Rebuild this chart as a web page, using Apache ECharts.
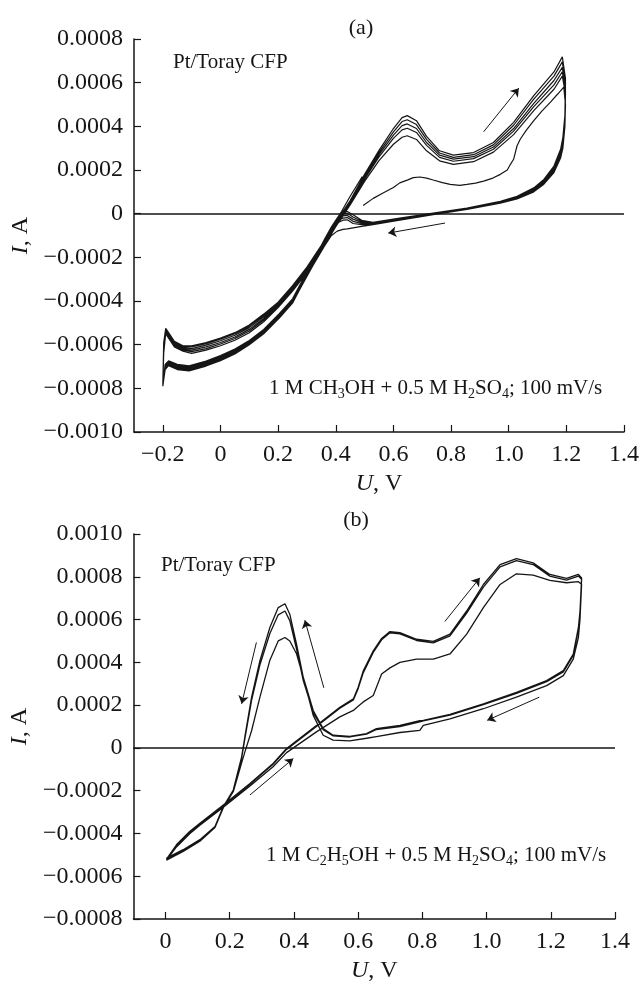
<!DOCTYPE html>
<html>
<head>
<meta charset="utf-8">
<script src="https://cdn.jsdelivr.net/npm/echarts@6/dist/echarts.min.js"></script>
<style>
  html, body { margin: 0; padding: 0; background: #fff; }
  #chart { width: 643px; height: 984px; }
</style>
</head>
<body>
<div id="chart"></div>
<script>
// ---- panel (a): methanol, U in V, I in A ----
// very first scan starts at 0.5 V
const aFirstU = [0.495, 0.53, 0.564, 0.6, 0.622, 0.65, 0.669, 0.692, 0.715, 0.738, 0.77, 0.797, 0.83, 0.855, 0.885, 0.913, 0.945, 0.971, 0.995, 1.006, 1.017, 1.029, 1.04, 1.06, 1.087, 1.115, 1.145, 1.17, 1.191];
const aFirstI = [0.000037, 0.00007, 0.000095, 0.00012, 0.000141, 0.000155, 0.000165, 0.000168, 0.000163, 0.000154, 0.000142, 0.000134, 0.00013, 0.000134, 0.00014, 0.000149, 0.000163, 0.00018, 0.0002, 0.000226, 0.000249, 0.000311, 0.000341, 0.00038, 0.000426, 0.00047, 0.000511, 0.000548, 0.00058];

// anodic (forward) sweeps, cycles 1..5
const aFwdU = [-0.2, -0.197, -0.19, -0.18, -0.16, -0.13, -0.1, -0.05, 0, 0.05, 0.1, 0.15, 0.2, 0.25, 0.3, 0.35, 0.4, 0.42, 0.45, 0.5, 0.55, 0.6, 0.63, 0.648, 0.68, 0.715, 0.76, 0.808, 0.878, 0.947, 1.017, 1.087, 1.157, 1.186];
const aFwdI1 = [-0.00079, -0.00064, -0.00055, -0.00057, -0.00061, -0.00063, -0.00064, -0.000625, -0.000605, -0.00058, -0.000545, -0.000495, -0.00043, -0.000355, -0.00027, -0.00017, -0.00006, -0.00002, 0.00004, 0.000148, 0.000243, 0.000318, 0.00035, 0.000357, 0.00034, 0.000288, 0.000242, 0.000226, 0.000238, 0.000282, 0.000362, 0.000472, 0.00057, 0.00063];
const aFwdI2 = [-0.00078, -0.00063, -0.000545, -0.000565, -0.000605, -0.000625, -0.000632, -0.000618, -0.000597, -0.000572, -0.000537, -0.000487, -0.000425, -0.00035, -0.000265, -0.000165, -0.000055, -0.000015, 0.000045, 0.000158, 0.00026, 0.000345, 0.000384, 0.000391, 0.000372, 0.000313, 0.000258, 0.00024, 0.000252, 0.000295, 0.000378, 0.00049, 0.00059, 0.00065];
const aFwdI3 = [-0.00078, -0.00062, -0.00054, -0.00056, -0.0006, -0.00062, -0.000625, -0.00061, -0.00059, -0.000565, -0.00053, -0.00048, -0.00042, -0.000345, -0.00026, -0.00016, -0.00005, -0.00001, 0.00005, 0.000165, 0.00027, 0.00036, 0.000403, 0.000411, 0.00039, 0.000326, 0.000268, 0.00025, 0.000261, 0.000305, 0.00039, 0.000505, 0.00061, 0.00067];
const aFwdI4 = [-0.00078, -0.00061, -0.000535, -0.000555, -0.000595, -0.000615, -0.000618, -0.000602, -0.000582, -0.000557, -0.000522, -0.000472, -0.000415, -0.00034, -0.000255, -0.000155, -0.000045, -0.000005, 0.000055, 0.000172, 0.00028, 0.000375, 0.000422, 0.00043, 0.000408, 0.00034, 0.000278, 0.000258, 0.00027, 0.000315, 0.000405, 0.000525, 0.00063, 0.000695];
const aFwdI5 = [-0.00078, -0.0006, -0.00053, -0.00055, -0.00059, -0.00061, -0.00061, -0.000595, -0.000575, -0.00055, -0.000515, -0.000465, -0.00041, -0.000335, -0.00025, -0.00015, -0.00004, 0, 0.00006, 0.00018, 0.00029, 0.00039, 0.00044, 0.000449, 0.000426, 0.000354, 0.000288, 0.000268, 0.00028, 0.000326, 0.000418, 0.000541, 0.000649, 0.000718];

// cathodic (reverse) sweeps, after first scan (0) and cycles 1..5
const aRevU = [1.192, 1.197, 1.195, 1.188, 1.18, 1.157, 1.122, 1.087, 1.029, 0.971, 0.855, 0.738, 0.622, 0.529, 0.49, 0.46, 0.44, 0.425, 0.405, 0.385, 0.36, 0.32, 0.274, 0.25, 0.204, 0.15, 0.1, 0.05, 0, -0.05, -0.109, -0.15, -0.18, -0.192, -0.2];
const aRevI0 = [0.00058, 0.0005, 0.0004, 0.0003, 0.000255, 0.000188, 0.000135, 0.0001, 0.000067, 0.000048, 0.00002, -0.000004, -0.00003, -0.00005, -0.000058, -0.000065, -0.00007, -0.000072, -0.00008, -0.0001, -0.00015, -0.00024, -0.00035, -0.00041, -0.000478, -0.00055, -0.0006, -0.000643, -0.000673, -0.000698, -0.00072, -0.000714, -0.000696, -0.000714, -0.00079];
const aRevI1 = [0.00063, 0.00055, 0.00041, 0.00031, 0.000265, 0.000195, 0.00014, 0.000104, 0.00007, 0.00005, 0.000021, -0.000002, -0.000028, -0.000048, -0.00005, -0.000045, -0.000028, -0.00003, -0.000042, -0.000078, -0.000138, -0.000236, -0.000346, -0.000406, -0.000474, -0.000546, -0.000597, -0.00064, -0.00067, -0.000695, -0.000716, -0.00071, -0.000692, -0.00071, -0.00078];
const aRevI2 = [0.00065, 0.00056, 0.00042, 0.00032, 0.000272, 0.0002, 0.000144, 0.000107, 0.000072, 0.000051, 0.000022, -0.000001, -0.000026, -0.000046, -0.000045, -0.000035, -0.000018, -0.00002, -0.000036, -0.000074, -0.000134, -0.000232, -0.000342, -0.000402, -0.00047, -0.000542, -0.000593, -0.000635, -0.000665, -0.00069, -0.000712, -0.000705, -0.000688, -0.000705, -0.00078];
const aRevI3 = [0.00067, 0.00058, 0.00043, 0.00033, 0.00028, 0.000206, 0.000148, 0.00011, 0.000075, 0.000053, 0.000023, 0, -0.000024, -0.000044, -0.00004, -0.000025, -0.000008, -0.00001, -0.00003, -0.00007, -0.00013, -0.000228, -0.000338, -0.000398, -0.000466, -0.000538, -0.000589, -0.00063, -0.00066, -0.000685, -0.000707, -0.0007, -0.000684, -0.0007, -0.00078];
const aRevI4 = [0.000695, 0.0006, 0.00044, 0.00034, 0.000288, 0.000212, 0.000152, 0.000114, 0.000077, 0.000055, 0.000024, 0.000001, -0.000022, -0.000042, -0.000035, -0.000015, 0.000002, 0, -0.000025, -0.000065, -0.000125, -0.000224, -0.000334, -0.000394, -0.000462, -0.000534, -0.000585, -0.000625, -0.000655, -0.00068, -0.000702, -0.000695, -0.000679, -0.000695, -0.00078];
const aRevI5 = [0.000718, 0.00062, 0.00045, 0.00035, 0.000295, 0.000218, 0.000157, 0.000118, 0.00008, 0.000057, 0.000026, 0.000003, -0.00002, -0.00004, -0.00003, -0.000005, 0.00001, 0.000008, -0.00002, -0.00006, -0.00012, -0.00022, -0.00033, -0.00039, -0.000458, -0.00053, -0.000581, -0.00062, -0.00065, -0.000675, -0.000697, -0.00069, -0.000674, -0.00069, -0.00078];

// last sweep stops at 0.5 V
const aLastU = [-0.2, -0.197, -0.19, -0.18, -0.16, -0.13, -0.1, -0.05, 0, 0.05, 0.1, 0.15, 0.2, 0.25, 0.3, 0.35, 0.4, 0.42, 0.45, 0.492];
const aLastI = [-0.00078, -0.00059, -0.000525, -0.000545, -0.000585, -0.000605, -0.000605, -0.00059, -0.00057, -0.000545, -0.00051, -0.00046, -0.000405, -0.00033, -0.000245, -0.000145, -0.00003, 0.00001, 0.00008, 0.00017];

// ---- panel (b): ethanol ----
const bFwdU = [0.003, 0.034, 0.076, 0.107, 0.174, 0.263, 0.335, 0.377, 0.47, 0.543, 0.585, 0.6, 0.616, 0.647, 0.673, 0.699, 0.73, 0.782, 0.834, 0.886, 0.938, 0.99, 1.042, 1.093, 1.145, 1.197, 1.249, 1.286, 1.296];
const bFwdI1 = [-0.000525, -0.000463, -0.0004, -0.000362, -0.000285, -0.000178, -0.000088, -0.000022, 0.000075, 0.000145, 0.000175, 0.000195, 0.000215, 0.000245, 0.000345, 0.000374, 0.0004, 0.000415, 0.000415, 0.000439, 0.000532, 0.000656, 0.000764, 0.000814, 0.000808, 0.000783, 0.000772, 0.000777, 0.000765];
const bFwdI2 = [-0.00052, -0.000458, -0.000395, -0.000357, -0.000278, -0.00017, -0.000077, -0.000007, 0.0001, 0.000185, 0.000224, 0.000277, 0.000352, 0.000446, 0.000505, 0.000538, 0.000533, 0.000502, 0.000491, 0.000524, 0.00063, 0.000752, 0.000846, 0.000876, 0.000857, 0.000803, 0.000784, 0.000803, 0.000788];
const bFwdI3 = [-0.000515, -0.000453, -0.00039, -0.000352, -0.000274, -0.000166, -0.000073, -0.000003, 0.000105, 0.00019, 0.000229, 0.000284, 0.000361, 0.000454, 0.000512, 0.000544, 0.000539, 0.000508, 0.000498, 0.000532, 0.00064, 0.000764, 0.000857, 0.000885, 0.000865, 0.000811, 0.000792, 0.000811, 0.000795];

const bRevU = [1.296, 1.291, 1.286, 1.27, 1.239, 1.187, 1.093, 0.99, 0.886, 0.803, 0.792, 0.73, 0.657, 0.626, 0.574, 0.522, 0.491, 0.46, 0.429, 0.408, 0.387, 0.372, 0.351, 0.325, 0.294, 0.268, 0.247, 0.237, 0.211, 0.18, 0.154, 0.107, 0.055, 0.003];
const bRevI1 = [0.000765, 0.0006, 0.000516, 0.000415, 0.000338, 0.000291, 0.000237, 0.000183, 0.000136, 0.000105, 0.000082, 0.000072, 0.000053, 0.000045, 0.000033, 0.000036, 0.000059, 0.000152, 0.00033, 0.00044, 0.0005, 0.000516, 0.0005, 0.00041, 0.000237, 0.00008, -0.00002, -0.00007, -0.000205, -0.00028, -0.000372, -0.000436, -0.000484, -0.000525];
const bRevI2 = [0.000788, 0.00063, 0.000555, 0.000432, 0.000355, 0.00031, 0.000255, 0.000202, 0.000153, 0.000126, 0.000122, 0.0001, 0.000086, 0.000064, 0.000051, 0.000056, 0.000085, 0.000165, 0.000315, 0.000462, 0.000595, 0.00064, 0.000622, 0.000535, 0.000388, 0.000222, 0.000042, -0.000048, -0.0002, -0.000277, -0.00037, -0.000432, -0.00048, -0.00052];
const bRevI3 = [0.000795, 0.00064, 0.000563, 0.000439, 0.000361, 0.000315, 0.00026, 0.000206, 0.000157, 0.000129, 0.000127, 0.000105, 0.00009, 0.000067, 0.000054, 0.000059, 0.00009, 0.000175, 0.00033, 0.000485, 0.000625, 0.000674, 0.000656, 0.000563, 0.000408, 0.000237, 0.000051, -0.000042, -0.000197, -0.000274, -0.000367, -0.000429, -0.000476, -0.000515];

// ticks
const xTicksA = [-0.2, 0, 0.2, 0.4, 0.6, 0.8, 1.0, 1.2, 1.4];
const yTicksA = [-0.001, -0.0008, -0.0006, -0.0004, -0.0002, 0, 0.0002, 0.0004, 0.0006, 0.0008];
const xTicksB = [0, 0.2, 0.4, 0.6, 0.8, 1.0, 1.2, 1.4];
const yTicksB = [-0.0008, -0.0006, -0.0004, -0.0002, 0, 0.0002, 0.0004, 0.0006, 0.0008, 0.001];

// sweep direction arrows [from, to]
const arrowsA = [
  [[0.913, 0.000375], [1.035, 0.000575]],
  [[0.779, -0.000043], [0.582, -0.000089]]
];
const arrowsB = [
  [[0.283, 0.000493], [0.237, 0.000206]],
  [[0.493, 0.000281], [0.434, 0.000597]],
  [[0.263, -0.00022], [0.398, -0.00005]],
  [[0.870, 0.000591], [0.979, 0.000795]],
  [[1.164, 0.000237], [1.002, 0.000129]]
];

const zip = (us, is) => us.map((u, k) => [u, is[k]]);

const traceA = [].concat(
  zip(aFirstU, aFirstI), zip(aRevU, aRevI0),
  zip(aFwdU, aFwdI1), zip(aRevU, aRevI1),
  zip(aFwdU, aFwdI2), zip(aRevU, aRevI2),
  zip(aFwdU, aFwdI3), zip(aRevU, aRevI3),
  zip(aFwdU, aFwdI4), zip(aRevU, aRevI4),
  zip(aFwdU, aFwdI5), zip(aRevU, aRevI5),
  zip(aLastU, aLastI)
);
const traceB = [].concat(
  zip(bFwdU, bFwdI1), zip(bRevU, bRevI1),
  zip(bFwdU, bFwdI2), zip(bRevU, bRevI2),
  zip(bFwdU, bFwdI3), zip(bRevU, bRevI3)
);

const FONT = '"Liberation Serif", "Times New Roman", serif';
const INK = '#151515';

const fmtX = v => Math.abs(v) < 1e-9 ? '0' : (v < 0 ? '\u2212' : '') + Math.abs(v).toFixed(1);
const fmtY = v => Math.abs(v) < 1e-12 ? '0' : (v < 0 ? '\u2212' : '') + Math.abs(v).toFixed(4);

function xAxisOf(grid, min, max, ticks) {
  return {
    gridIndex: grid, type: 'value', min: min, max: max,
    axisLine: { onZero: false, lineStyle: { color: INK, width: 1.5 } },
    axisTick: { inside: true, length: 7, customValues: ticks, lineStyle: { color: INK, width: 1.2 } },
    axisLabel: { customValues: ticks, formatter: fmtX, fontFamily: FONT, fontSize: 24, color: INK, margin: 11 },
    splitLine: { show: false },
    name: '{i|U}, V', nameLocation: 'middle', nameGap: 40,
    nameTextStyle: { fontFamily: FONT, fontSize: 24, color: INK,
      rich: { i: { fontFamily: FONT, fontSize: 24, fontStyle: 'italic', color: INK } } }
  };
}
function yAxisOf(grid, min, max, ticks) {
  return {
    gridIndex: grid, type: 'value', min: min, max: max,
    axisLine: { onZero: false, lineStyle: { color: INK, width: 1.5 } },
    axisTick: { inside: true, length: 7, customValues: ticks, lineStyle: { color: INK, width: 1.2 } },
    axisLabel: { customValues: ticks, formatter: fmtY, fontFamily: FONT, fontSize: 24, color: INK, margin: 11 },
    splitLine: { show: false },
    name: '{i|I}, A', nameLocation: 'middle', nameGap: 96, nameRotate: 90,
    nameTextStyle: { fontFamily: FONT, fontSize: 24, color: INK,
      rich: { i: { fontFamily: FONT, fontSize: 24, fontStyle: 'italic', color: INK } } }
  };
}

function zeroLine() {
  return {
    silent: true, symbol: ['none', 'none'], label: { show: false },
    lineStyle: { type: 'solid', color: INK, width: 1.5 },
    data: [{ yAxis: 0 }]
  };
}

function arrowSeries(idx, list) {
  return {
    type: 'lines', coordinateSystem: 'cartesian2d', xAxisIndex: idx, yAxisIndex: idx,
    symbol: ['none', 'arrow'], symbolSize: 8, silent: true,
    lineStyle: { color: INK, width: 1, opacity: 1, curveness: 0 },
    data: list.map(c => ({ coords: c }))
  };
}

function label(x, y, text, size, align) {
  return {
    type: 'text', x: x, y: y, silent: true,
    style: {
      text: text, fontFamily: FONT, fontSize: size, fill: INK, lineHeight: 26,
      align: align, verticalAlign: 'middle',
      rich: { s: { fontFamily: FONT, fontSize: 14, fill: INK, verticalAlign: 'bottom', lineHeight: 14 } }
    }
  };
}

const chart = echarts.init(document.getElementById('chart'), null, { renderer: 'canvas' });
chart.setOption({
  animation: false,
  backgroundColor: '#fff',
  grid: [
    { left: 134, top: 39, width: 490, height: 393 },
    { left: 133, top: 534, width: 482, height: 387 }
  ],
  xAxis: [xAxisOf(0, -0.3, 1.4, xTicksA), xAxisOf(1, -0.1, 1.4, xTicksB)],
  yAxis: [yAxisOf(0, -0.001, 0.0008, yTicksA), yAxisOf(1, -0.0008, 0.001, yTicksB)],
  series: [
    {
      type: 'line', xAxisIndex: 0, yAxisIndex: 0, data: traceA,
      showSymbol: false, symbol: 'none', silent: true,
      lineStyle: { color: INK, width: 1.2 },
      markLine: zeroLine()
    },
    {
      type: 'line', xAxisIndex: 1, yAxisIndex: 1, data: traceB,
      showSymbol: false, symbol: 'none', silent: true,
      lineStyle: { color: INK, width: 1.3 },
      markLine: zeroLine()
    },
    arrowSeries(0, arrowsA),
    arrowSeries(1, arrowsB)
  ],
  graphic: [
    label(361, 28, '(a)', 22, 'center'),
    label(356, 520, '(b)', 22, 'center'),
    label(173, 62, 'Pt/Toray CFP', 21, 'left'),
    label(161, 565, 'Pt/Toray CFP', 21, 'left'),
    label(269, 388, '1 M CH{s|3}OH + 0.5 M H{s|2}SO{s|4}; 100 mV/s', 21, 'left'),
    label(266, 855, '1 M C{s|2}H{s|5}OH + 0.5 M H{s|2}SO{s|4}; 100 mV/s', 21, 'left')
  ]
});
window.addEventListener('resize', () => chart.resize());
</script>
</body>
</html>
